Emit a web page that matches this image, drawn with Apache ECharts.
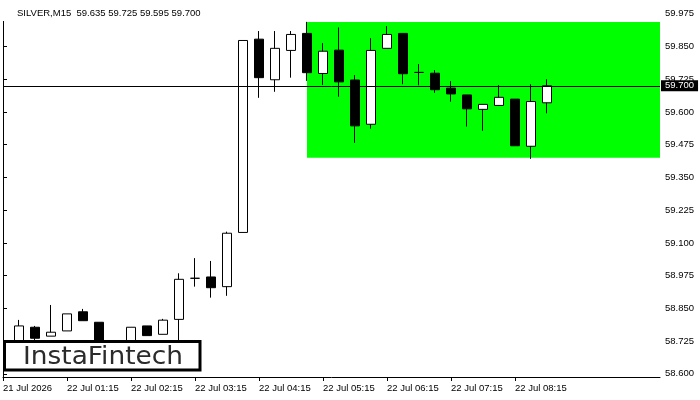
<!DOCTYPE html>
<html>
<head>
<meta charset="utf-8">
<script src="https://cdn.jsdelivr.net/npm/echarts@6/dist/echarts.min.js"></script>
<style>html,body{margin:0;padding:0;background:#fff}#c{width:700px;height:400px}</style>
</head>
<body>
<div id="c"></div>
<script>
var symbolName = 'SILVER,M15';
var opens  = [58.720,58.778,58.744,58.764,58.837,58.797,58.710,58.700,58.783,58.751,58.808,58.965,58.970,58.933,59.140,59.878,59.723,59.835,59.900,59.747,59.836,59.722,59.553,59.843,59.900,59.751,59.748,59.691,59.665,59.610,59.625,59.649,59.469,59.635];
var closes = [58.783,58.736,58.759,58.829,58.803,58.710,58.690,58.778,58.746,58.805,58.961,58.965,58.929,59.137,59.873,59.731,59.843,59.896,59.750,59.832,59.715,59.547,59.835,59.896,59.746,59.751,59.685,59.669,59.612,59.629,59.656,59.471,59.640,59.700];
var lows   = [58.700,58.725,58.744,58.764,58.803,58.690,58.670,58.690,58.746,58.751,58.720,58.933,58.891,58.898,59.140,59.654,59.677,59.731,59.719,59.703,59.658,59.482,59.536,59.843,59.706,59.702,59.673,59.639,59.544,59.528,59.623,59.471,59.421,59.595];
var highs  = [58.806,58.783,58.863,58.829,58.848,58.797,58.720,58.778,58.783,58.810,58.984,59.042,59.031,59.143,59.873,59.909,59.909,59.909,59.944,59.863,59.923,59.741,59.882,59.928,59.900,59.783,59.760,59.718,59.665,59.629,59.703,59.649,59.706,59.725];
var timeTickPos   = [0,4,8,12,16,20,24,28,32];
var timeTickLabel = ['21 Jul 2026','22 Jul 01:15','22 Jul 02:15','22 Jul 03:15','22 Jul 04:15','22 Jul 05:15','22 Jul 06:15','22 Jul 07:15','22 Jul 08:15'];
var priceTicks = [58.600,58.725,58.850,58.975,59.100,59.225,59.350,59.475,59.600,59.725,59.850,59.975];
var currentPrice = 59.700;
var rectStartBar = 19;
var rectTop = 59.944, rectBottom = 59.425;
var logoText = 'InstaFintech';

var candleData = opens.map(function (o, i) { return [i + 1, o, closes[i], lows[i], highs[i]]; });
var n = opens.length - 1;
var titleText = symbolName + '  ' + [opens[n], highs[n], lows[n], closes[n]].map(function (v) { return v.toFixed(3); }).join(' ');
var xMax = 41.0625;
var FONT = 'Liberation Sans';

var chart = echarts.init(document.getElementById('c'), null, {renderer: 'canvas'});
chart.setOption({
  animation: false,
  backgroundColor: '#fff',
  title: {text: titleText, left: 0, top: 0, padding: [8, 6, 3, 17], backgroundColor: '#fff',
    textStyle: {fontFamily: FONT, fontSize: 9.5, fontWeight: 'normal', color: '#000', lineHeight: 10}},
  grid: {left: 3, right: 40, top: 8, bottom: 23},
  xAxis: {
    type: 'value', min: 0, max: xMax,
    axisLine: {show: true, onZero: false, lineStyle: {color: '#000', width: 1}},
    axisTick: {show: true, customValues: timeTickPos, length: 4, lineStyle: {color: '#000'}},
    axisLabel: {customValues: timeTickPos, align: 'left', margin: 6, fontFamily: FONT, fontSize: 9.5, color: '#000',
      formatter: function (v) { var i = timeTickPos.indexOf(Math.round(v)); return i >= 0 ? timeTickLabel[i] : ''; }},
    splitLine: {show: false}
  },
  yAxis: [{
    type: 'value', position: 'right', min: 58.588, max: 59.997,
    axisLine: {show: true, lineStyle: {color: '#000', width: 1}},
    axisTick: {show: true, customValues: priceTicks, length: 4, lineStyle: {color: '#000'}},
    axisLabel: {customValues: priceTicks, margin: 5, fontFamily: FONT, fontSize: 9.5, color: '#000',
      formatter: function (v) { return v.toFixed(3); }},
    splitLine: {show: false}
  }, {
    type: 'value', position: 'left', min: 58.588, max: 59.997,
    axisLine: {show: true, lineStyle: {color: '#000', width: 1}},
    axisTick: {show: false}, axisLabel: {show: false}, splitLine: {show: false}
  }],
  series: [{
    type: 'line', data: [], z: 1, silent: true,
    markArea: {silent: true, itemStyle: {color: '#00ff00', opacity: 1},
      data: [[{coord: [rectStartBar, rectTop]}, {coord: [xMax, rectBottom]}]]}
  }, {
    type: 'candlestick', z: 3, barWidth: 10,
    encode: {x: 0, y: [1, 2, 3, 4]},
    data: candleData,
    itemStyle: {color: '#fff', color0: '#000', borderColor: '#000', borderColor0: '#000', borderColorDoji: '#000', borderWidth: 1},
    markLine: {
      silent: true, symbol: ['none', 'none'], z: 5,
      lineStyle: {color: '#000', width: 1, type: 'solid'},
      label: {show: true, position: 'end', distance: 1, formatter: function (p) { return p.value.toFixed(3); },
        backgroundColor: '#000', color: '#fff', fontFamily: FONT, fontSize: 9.5, padding: [1, 4, 0, 4]},
      data: [{yAxis: currentPrice}]
    }
  }],
  graphic: [
    {type: 'rect', z: 100, zlevel: 0, shape: {x: 4.5, y: 341.5, width: 195.5, height: 28.5}, style: {fill: '#fff', stroke: '#000', lineWidth: 3}},
    {type: 'text', z: 101, x: 103, y: 357.5, scaleX: 1.1, style: {text: logoText, fill: '#2b2b2b', font: '24px "DejaVu Sans"', textAlign: 'center', textVerticalAlign: 'middle'}}
  ]
});
</script>
</body>
</html>
